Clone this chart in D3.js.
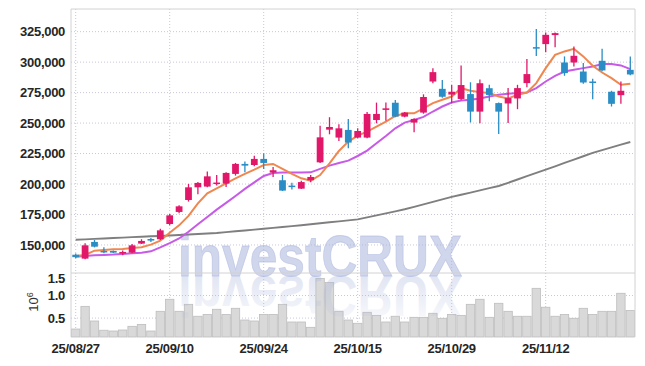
<!DOCTYPE html>
<html>
<head>
<meta charset="utf-8">
<script src="https://cdnjs.cloudflare.com/ajax/libs/d3/7.8.5/d3.min.js"></script>
<style>
body { margin: 0; background: #fff; }
svg text { font-family: "Liberation Sans", Arial, sans-serif; }
</style>
</head>
<body>
<svg width="645" height="366"></svg>
<script>
var dates = ["25/08/27","25/08/28","25/08/29","25/09/01","25/09/02","25/09/03","25/09/04","25/09/05","25/09/08","25/09/09",
    "25/09/10","25/09/11","25/09/12","25/09/15","25/09/16","25/09/17","25/09/18","25/09/19","25/09/22","25/09/23",
    "25/09/24","25/09/25","25/09/26","25/09/29","25/09/30","25/10/01","25/10/02","25/10/10","25/10/13","25/10/14",
    "25/10/15","25/10/16","25/10/17","25/10/20","25/10/21","25/10/22","25/10/23","25/10/24","25/10/27","25/10/28",
    "25/10/29","25/10/30","25/10/31","25/11/03","25/11/04","25/11/05","25/11/06","25/11/07","25/11/10","25/11/11",
    "25/11/12","25/11/13","25/11/14","25/11/17","25/11/18","25/11/19","25/11/20","25/11/21","25/11/24","25/11/25"];

var open = [142000,138800,152500,145100,145100,142900,143700,151100,154900,154700,
    167200,177100,186900,197300,197900,200100,200300,208300,216500,215600,
    220600,209400,203100,198700,196200,203100,217800,244600,238100,244400,
    238100,238100,252500,260800,266700,255300,250400,258600,284100,278100,
    273400,269800,273800,259400,278600,266400,266100,270200,282800,312300,
    314800,322200,299700,299700,292300,284100,301100,275700,272900,293700];
var high = [143000,151400,154100,148100,145400,145400,150800,154700,155700,163400,
    175400,182500,200100,201700,210200,207400,209600,217300,218400,223300,
    225200,214000,207400,201000,202700,207400,247900,254800,249000,253400,
    245700,259100,266800,266800,269000,259100,253900,273600,295000,285400,
    281300,297300,283500,285700,281500,266900,278700,281400,302500,327100,
    324300,324300,304700,312900,299200,286300,310900,276500,284100,304700];
var low = [139000,138200,148000,143200,143400,141500,143200,150800,152500,154100,
    166100,176000,185600,191600,197300,198700,197600,206900,209600,214600,
    212400,205800,194300,195600,195900,201400,217300,240800,235300,229300,
    237500,237500,249800,252000,254700,254700,242400,257700,282700,270800,
    266300,268700,250500,249900,268000,241000,250000,261400,279500,305000,
    308200,312300,288800,296400,282200,269600,292600,263600,265800,289300];
var close = [140000,149700,148600,144500,143700,144300,149700,153300,153600,162000,
    174300,181700,197300,200900,206300,201200,209100,216500,215100,220600,
    217300,211300,194600,198100,201600,205800,238300,246800,245700,234000,
    243500,257500,257500,262100,255300,258600,253400,271400,291800,271600,
    275700,281200,259400,282700,273100,259400,270500,278700,290200,311200,
    322400,323800,291000,305200,283300,283000,293200,265800,276500,289900];
var volume = [257000,760000,435000,230000,213000,235000,317000,360000,213000,650000,
    917000,650000,805000,540000,580000,695000,580000,717000,457000,435000,
    580000,580000,805000,413000,413000,295000,1380000,1290000,650000,457000,
    384000,628000,560000,413000,540000,413000,517000,517000,606000,495000,
    580000,560000,805000,917000,517000,828000,650000,540000,540000,1160000,
    740000,540000,580000,495000,717000,580000,650000,650000,1050000,670000];
var ma5 = [141000,141800,145300,145900,146400,146700,147500,148100,150300,153500,
    160100,166100,173800,184200,192400,196500,200600,204700,208300,211800,
    215600,216500,212400,208300,204700,202800,207400,217000,227100,234800,
    239700,243000,247100,251200,255800,258000,258000,262000,266400,269100,
    271800,278600,276500,275400,274600,271800,270200,273200,275100,282800,
    295100,306000,308800,310900,304700,297000,291500,286900,281400,282200];
var ma10 = [140400,141000,141500,141800,142100,142600,143200,143700,144800,148000,
    151500,155300,160800,167000,173000,179000,184500,190200,196000,201400,
    206600,209100,209400,209400,209400,209600,212400,215100,217300,219200,
    223000,227400,233400,239400,245700,250400,252500,255100,259500,263600,
    266900,268600,269100,270200,271800,273200,274000,274600,275100,278700,
    284100,288800,292300,293700,295100,296400,298400,298400,297300,294300];
var maLong = [154300,154600,155000,155300,155700,156000,156400,156700,157100,157400,
    157800,158200,158600,159000,159400,159800,160500,161200,161900,162600,
    163300,164000,164700,165500,166200,167000,167800,168600,169400,170200,
    171000,172600,174300,175900,177600,179300,181300,183300,185300,187400,
    189400,191200,193000,194800,196600,198400,201000,203700,206400,209100,
    211800,214500,217300,220000,222800,225500,227800,230000,232300,234500];

var priceTicks = [150000, 175000, 200000, 225000, 250000, 275000, 300000, 325000];
var volumeTicks = [500000, 1000000, 1500000];
var dateTicks = ["25/08/27", "25/09/10", "25/09/24", "25/10/15", "25/10/29", "25/11/12"];

var colorUp = "#e1186a";
var colorDown = "#2a8dc5";
var colorGrid = "#c6c8da";
var colorBorder = "#d2d2d2";
var colorMark = "#a9b5dc";

var canvas = d3.select("svg");
var left = 71, right = 635;
var priceTop = 9, priceBottom = 273, volBottom = 337;

var xScale = d3.scaleBand().domain(dates).range([left, right]).padding(0);
var bw = xScale.bandwidth();
var cx = d => xScale(d) + bw / 2;

var yPrice = d3.scaleLinear().domain([127000, 343600]).range([priceBottom, priceTop]);
var yVol = d3.scaleLinear().domain([80000, 1500000]).range([volBottom, priceBottom]);

var rows = dates.map((d, i) => ({
    date: d, o: open[i], h: high[i], l: low[i], c: close[i], v: volume[i],
    ma5: ma5[i], ma10: ma10[i], maLong: maLong[i]
}));

// grid
var grid = canvas.append("g");
grid.selectAll("line.hp").data(priceTicks).enter().append("line")
    .attr("x1", left).attr("x2", right)
    .attr("y1", d => yPrice(d)).attr("y2", d => yPrice(d))
    .attr("stroke", colorGrid).attr("stroke-dasharray", "1,2");
grid.selectAll("line.hv").data(volumeTicks.slice(0, 2)).enter().append("line")
    .attr("x1", left).attr("x2", right)
    .attr("y1", d => yVol(d)).attr("y2", d => yVol(d))
    .attr("stroke", colorGrid).attr("stroke-dasharray", "1,2");
grid.selectAll("line.v").data(dateTicks).enter().append("line")
    .attr("x1", d => cx(d)).attr("x2", d => cx(d))
    .attr("y1", priceTop).attr("y2", volBottom)
    .attr("stroke", colorGrid).attr("stroke-dasharray", "1,2");

// volume bars
canvas.append("g").selectAll("rect").data(rows).enter().append("rect")
    .attr("x", d => xScale(d.date) + 0.5)
    .attr("width", bw - 1)
    .attr("y", d => yVol(d.v))
    .attr("height", d => volBottom - yVol(d.v))
    .attr("fill", "#d9d9d9")
    .attr("stroke", "#bdbdbd")
    .attr("stroke-width", 0.8);

// watermark and its reflection
var defs = canvas.append("defs");
var fade = defs.append("linearGradient").attr("id", "fade")
    .attr("x1", 0).attr("y1", 0).attr("x2", 0).attr("y2", 1);
fade.append("stop").attr("offset", "0%").attr("stop-color", colorMark).attr("stop-opacity", 0.04);
fade.append("stop").attr("offset", "100%").attr("stop-color", colorMark).attr("stop-opacity", 0.42);

var wmBase = 276;
function watermark(sel) {
    return sel.append("text")
        .attr("x", 178).attr("y", wmBase)
        .attr("font-family", "DejaVu Sans, sans-serif")
        .attr("font-size", 57).attr("font-weight", "bold")
        .attr("textLength", 284).attr("lengthAdjust", "spacingAndGlyphs")
        .text("investCRUX");
}
watermark(canvas)
    .attr("fill", colorMark).attr("fill-opacity", 0.55)
    .attr("stroke", colorMark).attr("stroke-opacity", 0.55).attr("stroke-width", 0.8);
watermark(canvas)
    .attr("transform", `translate(0,${2 * wmBase}) scale(1,-1)`)
    .attr("fill", "url(#fade)");

// borders
canvas.append("line").attr("x1", left).attr("x2", right).attr("y1", priceTop).attr("y2", priceTop).attr("stroke", colorBorder);
canvas.append("line").attr("x1", left).attr("x2", right).attr("y1", priceBottom).attr("y2", priceBottom).attr("stroke", colorBorder);
canvas.append("line").attr("x1", left).attr("x2", left).attr("y1", priceTop).attr("y2", volBottom).attr("stroke", colorBorder);
canvas.append("line").attr("x1", right).attr("x2", right).attr("y1", priceTop).attr("y2", volBottom).attr("stroke", colorBorder);

// moving averages
function maLine(key) {
    return d3.line().x(d => cx(d.date)).y(d => yPrice(d[key]));
}
canvas.append("path").datum(rows).attr("d", maLine("maLong"))
    .attr("fill", "none").attr("stroke", "#7f7f7f").attr("stroke-width", 1.9);
canvas.append("path").datum(rows).attr("d", maLine("ma10"))
    .attr("fill", "none").attr("stroke", "#c75ae6").attr("stroke-width", 2);
canvas.append("path").datum(rows).attr("d", maLine("ma5"))
    .attr("fill", "none").attr("stroke", "#ef874f").attr("stroke-width", 2);

// candles
var candles = canvas.append("g").selectAll("g").data(rows).enter().append("g");
candles.append("line")
    .attr("x1", d => cx(d.date)).attr("x2", d => cx(d.date))
    .attr("y1", d => yPrice(d.h)).attr("y2", d => yPrice(d.l))
    .attr("stroke", d => d.c >= d.o ? colorUp : colorDown)
    .attr("stroke-width", 1.3);
candles.append("rect")
    .attr("x", d => cx(d.date) - bw * 0.36)
    .attr("width", bw * 0.72)
    .attr("y", d => yPrice(Math.max(d.o, d.c)))
    .attr("height", d => Math.max(1.5, Math.abs(yPrice(d.o) - yPrice(d.c))))
    .attr("fill", d => d.c >= d.o ? colorUp : colorDown);

// axes
var axisPrice = canvas.append("g")
    .attr("transform", `translate(${left},0)`)
    .call(d3.axisLeft(yPrice).tickValues(priceTicks).tickSize(0).tickPadding(6).tickFormat(d3.format(",")));
var axisVol = canvas.append("g")
    .attr("transform", `translate(${left},0)`)
    .call(d3.axisLeft(yVol).tickValues(volumeTicks).tickSize(0).tickPadding(6).tickFormat(d => (d / 1e6).toFixed(1)));
axisVol.selectAll(".tick").filter(d => d === 1500000).select("text").attr("dy", "0.7em");
var axisDate = canvas.append("g")
    .attr("transform", `translate(0,${volBottom})`)
    .call(d3.axisBottom(xScale).tickValues(dateTicks).tickSize(0).tickPadding(7));

[axisPrice, axisVol, axisDate].forEach(function (a) {
    a.select(".domain").remove();
    a.selectAll("text")
        .attr("font-family", "Liberation Sans, Arial, sans-serif")
        .attr("font-size", 13)
        .attr("font-weight", "bold")
        .attr("letter-spacing", "-0.3px")
        .attr("fill", "#262626");
});

// volume unit label
var unit = canvas.append("text")
    .attr("transform", "translate(38,302) rotate(-90)")
    .attr("text-anchor", "middle")
    .attr("font-family", "Liberation Serif, serif")
    .attr("font-size", 13)
    .attr("fill", "#333");
unit.append("tspan").text("10");
unit.append("tspan").attr("dy", -5).attr("font-size", 9).text("6");
</script>
</body>
</html>
